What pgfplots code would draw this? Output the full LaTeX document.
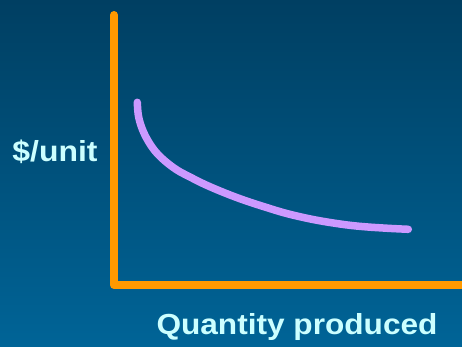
\documentclass[border=0pt]{standalone}
\usepackage{pgfplots}
\pgfplotsset{compat=1.18}
\usepackage{fontspec}
\setmainfont{Liberation Sans}
\definecolor{bgtop}{HTML}{003F62}
\definecolor{bgbot}{HTML}{006497}
\definecolor{axisorange}{HTML}{FF9900}
\definecolor{curvelilac}{HTML}{CC99FF}
\definecolor{labelcyan}{HTML}{CCFFFF}
\begin{document}
\begin{tikzpicture}
% slide background
\shade[top color=bgtop, bottom color=bgbot] (0,0) rectangle (462bp,347bp);
\useasboundingbox (0,0) rectangle (462bp,347bp);
\begin{axis}[
  at={(114bp,62bp)}, anchor=south west,
  scale only axis, width=348bp, height=270bp,
  xmin=114, xmax=462, ymin=62, ymax=332,
  axis lines=none, ticks=none, clip=false,
]
% the L-shaped axes
\draw[axisorange, line width=8bp, line cap=round, line join=round]
  (rel axis cs:0,1) -- (rel axis cs:0,0) -- (rel axis cs:1.02,0);
% average cost curve
\addplot[curvelilac, line width=7.5bp, line cap=round, smooth, tension=0.6] coordinates {
  (137.3,244.7) (138.3,232) (141.5,220) (147,208) (155,196) (165,186) (177,177)
  (190,170) (205,162.5) (225,154) (245,146.5) (265,140)
  (286.7,133.5) (313,127.5) (340,123) (361.7,120.5) (388,118.7) (408.3,117.7)
};
\end{axis}
\node[text=labelcyan, xscale=1.1, font=\bfseries\fontsize{29bp}{34bp}\selectfont] at (55bp,195bp) {\$/unit};
\node[text=labelcyan, xscale=1.09, font=\bfseries\fontsize{29bp}{34bp}\selectfont] at (297bp,20bp) {Quantity produced};
\end{tikzpicture}
\end{document}
